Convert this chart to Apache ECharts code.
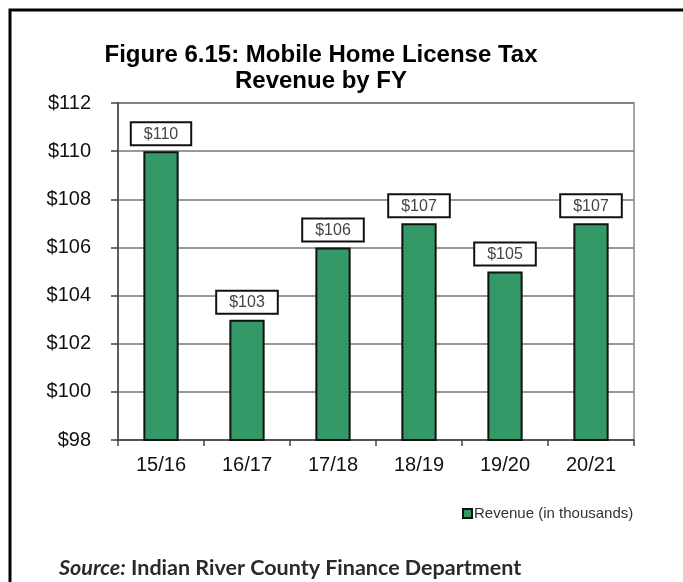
<!DOCTYPE html>
<html>
<head>
<meta charset="utf-8">
<script src="https://cdn.jsdelivr.net/npm/echarts@6/dist/echarts.min.js"></script>
<style>
html,body{margin:0;padding:0;background:#fff;}
#chart{width:683px;height:582px;}
</style>
</head>
<body>
<div id="chart"></div>
<script>
var categories = ['15/16', '16/17', '17/18', '18/19', '19/20', '20/21'];
var revenue = [110, 103, 106, 107, 105, 107];
var yMin = 98, yMax = 112, yStep = 2;
var titleLines = ['Figure 6.15: Mobile Home License Tax', 'Revenue by FY'];
var seriesName = 'Revenue (in thousands)';
var sourceLabel = 'Source:';
var sourceText = ' Indian River County Finance Department';

var chart = echarts.init(document.getElementById('chart'), null, {renderer: 'canvas'});
chart.setOption({
  animation: false,
  backgroundColor: '#fff',
  title: [{
    text: titleLines.join('\n'),
    left: 316, top: 37, textAlign: 'center',
    textStyle: {fontFamily: 'Liberation Sans, Arial', fontWeight: 'bold', fontSize: 24, lineHeight: 26, color: '#000'}
  }, {
    text: '{i|' + sourceLabel + '}{n|' + sourceText + '}',
    left: 54, top: 552,
    textStyle: {
      rich: {
        i: {fontFamily: 'Lato', fontStyle: 'italic', fontSize: 21.5, color: '#2a2a2a'},
        n: {fontFamily: 'Lato', fontSize: 21.5, color: '#2a2a2a'}
      }
    }
  }],
  legend: {
    data: [seriesName],
    left: 457, top: 501,
    itemWidth: 9, itemHeight: 9, itemGap: 2,
    icon: 'rect',
    textStyle: {fontFamily: 'Liberation Sans, Arial', fontSize: 15, color: '#333', padding: [0, 0, 0, -3]}
  },
  grid: {
    left: 118, right: 49, top: 103, bottom: 142,
    show: true, borderColor: '#888', borderWidth: 1.5, backgroundColor: 'transparent'
  },
  xAxis: {
    type: 'category', data: categories,
    axisLine: {lineStyle: {color: '#444', width: 1.5}},
    axisTick: {show: true, length: 6, inside: false, lineStyle: {color: '#444', width: 1.5}},
    axisLabel: {fontFamily: 'Liberation Sans, Arial', fontSize: 20, color: '#111', margin: 15}
  },
  yAxis: {
    type: 'value', min: yMin, max: yMax, interval: yStep,
    axisLine: {show: true, lineStyle: {color: '#444', width: 1.5}},
    axisTick: {show: true, length: 7, lineStyle: {color: '#444', width: 1.5}},
    splitLine: {lineStyle: {color: '#777', width: 1.5}},
    axisLabel: {fontFamily: 'Liberation Sans, Arial', fontSize: 20, color: '#111', margin: 27,
      formatter: function (v) { return '$' + v; }}
  },
  series: [{
    name: seriesName, type: 'bar', data: revenue,
    barWidth: '41%',
    itemStyle: {color: '#339966', borderColor: '#111', borderWidth: 2},
    label: {
      show: true, position: 'top', distance: 7,
      formatter: function (p) { return '$' + p.value; },
      fontFamily: 'Liberation Sans, Arial', fontSize: 16, color: '#444',
      backgroundColor: '#fff', borderColor: '#111', borderWidth: 2,
      padding: [3, 12, 2, 12]
    }
  }],
  graphic: [{
    type: 'polyline',
    shape: {points: [[10, 600], [10, 10], [700, 10]]},
    style: {stroke: '#000', lineWidth: 3, fill: null},
    silent: true
  }]
});
</script>
</body>
</html>
